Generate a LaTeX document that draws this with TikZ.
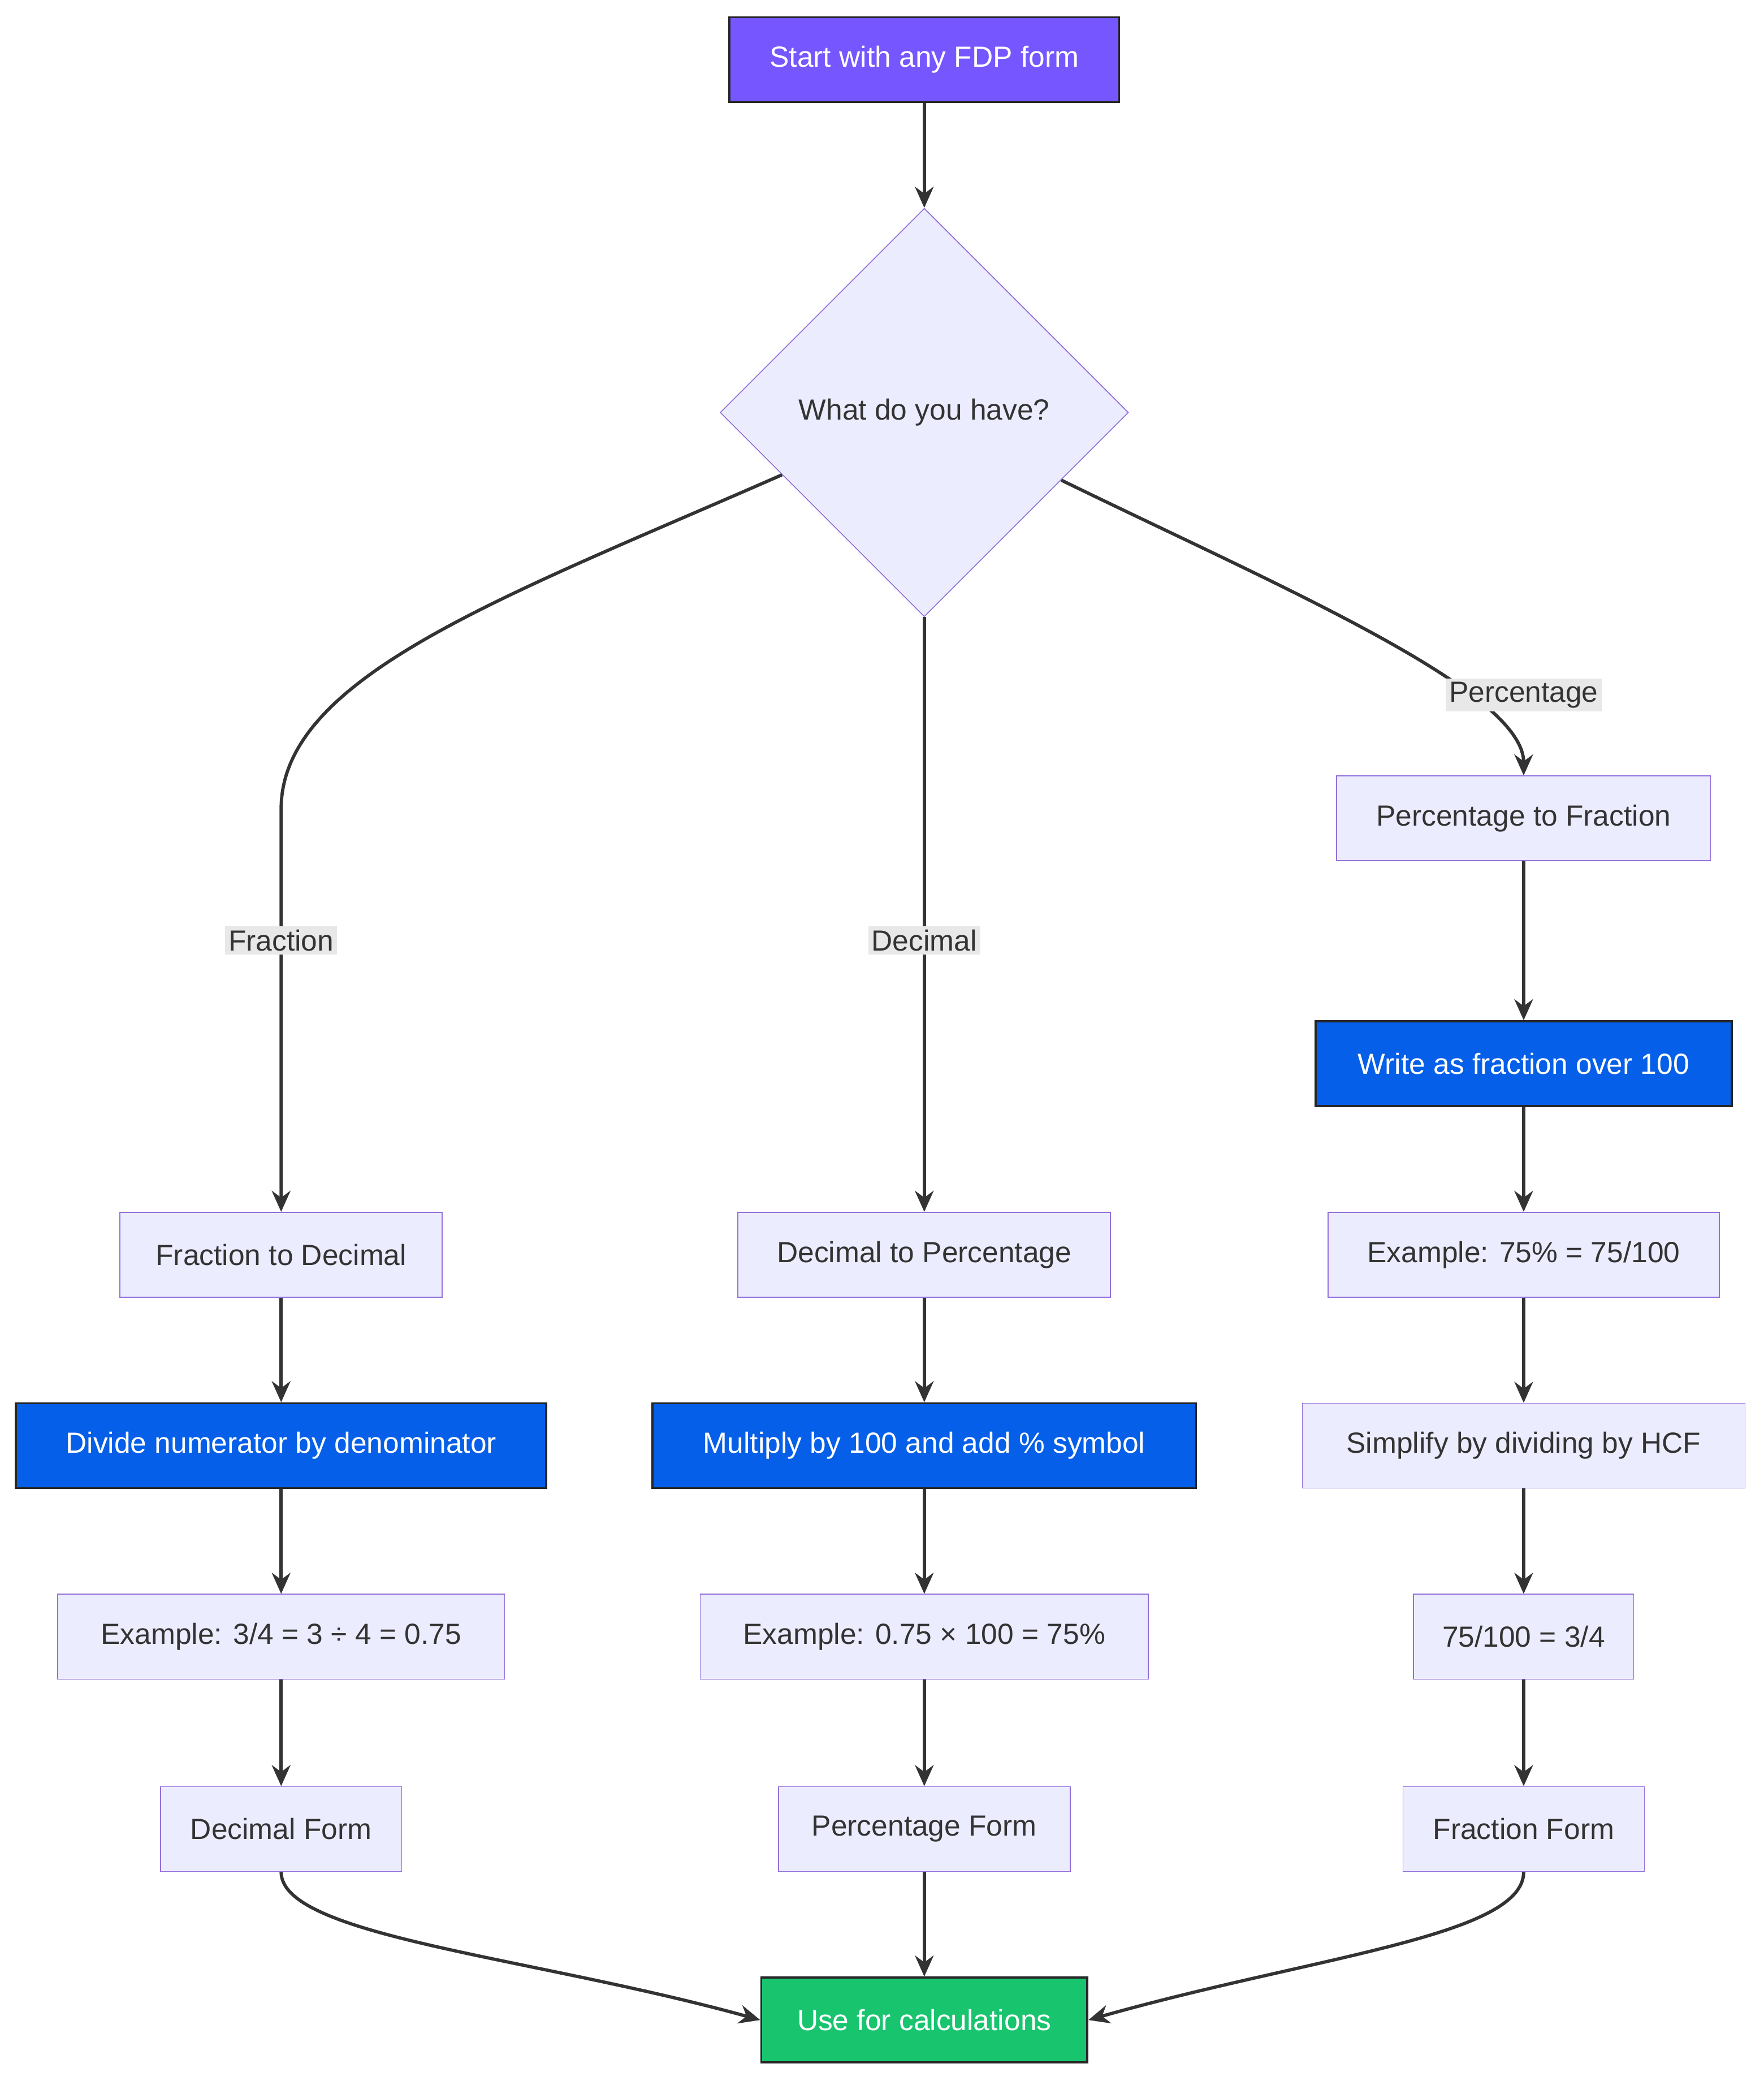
\documentclass[tikz,border=0pt]{standalone}
\usepackage{fontspec}
\setmainfont{Liberation Sans}
\usetikzlibrary{shapes.geometric}
\usetikzlibrary{arrows.meta}
\usetikzlibrary{positioning}

\definecolor{boxfill}{HTML}{ECECFF}
\definecolor{boxline}{HTML}{9370DB}
\definecolor{startfill}{HTML}{7657FF}
\definecolor{stepfill}{HTML}{055FE8}
\definecolor{endfill}{HTML}{19C46F}
\definecolor{txt}{HTML}{333333}
\definecolor{lblbg}{HTML}{E8E8E8}

\begin{document}
\begin{tikzpicture}[x=0.02cm,y=-0.02cm]
	%\draw[help lines] (0,0) grid (1330,1569);
	
	\tikzstyle{box} = [rectangle,draw=boxline,fill=boxfill,text=txt,minimum height=1.28cm,font=\fontsize{12.5}{14}\selectfont,inner sep=0pt]
	\tikzstyle{snode} = [box,draw=black!85,fill=stepfill,text=white,line width=0.9pt]
	\tikzstyle{dnode} = [diamond,draw=boxline,fill=boxfill,text=txt,minimum width=6.16cm,minimum height=6.16cm,inner sep=0pt,font=\fontsize{12.5}{14}\selectfont]
	\tikzstyle{elabel} = [fill=lblbg,text=txt,inner sep=1.5pt,font=\fontsize{12.5}{14}\selectfont]
	\tikzstyle{fedge} = [-{Stealth[length=9pt,width=8pt]},line width=1.4pt,draw=txt]
	
\useasboundingbox (0,0) rectangle (1330,1569);

\node[snode,fill=startfill,minimum width=5.88cm] (start) at (697,45) {Start with any FDP form};
\node[dnode] (have) at (697,311) {What do you have?};

\node[box,minimum width=4.86cm] (f2d) at (212,946) {Fraction to Decimal};
\node[snode,minimum width=8.0cm] (divide) at (212,1090) {Divide numerator by denominator};
\node[box,minimum width=6.74cm] (fex) at (212,1234) {Example: 3/4 = 3 ÷ 4 = 0.75};
\node[box,minimum width=3.64cm] (decform) at (212,1379) {Decimal Form};

\node[box,minimum width=5.62cm] (d2p) at (697,946) {Decimal to Percentage};
\node[snode,minimum width=8.2cm] (multiply) at (697,1090) {Multiply by 100 and add \% symbol};
\node[box,minimum width=6.76cm] (dex) at (697,1234) {Example: 0.75 × 100 = 75\%};
\node[box,minimum width=4.4cm] (pctform) at (697,1379) {Percentage Form};

\node[box,minimum width=5.64cm] (p2f) at (1149,617) {Percentage to Fraction};
\node[snode,minimum width=6.28cm] (write) at (1149,802) {Write as fraction over 100};
\node[box,minimum width=5.9cm] (pex) at (1149,946) {Example: 75\% = 75/100};
\node[box,minimum width=6.68cm] (simplify) at (1149,1090) {Simplify by dividing by HCF};
\node[box,minimum width=3.32cm] (simp) at (1149,1234) {75/100 = 3/4};
\node[box,minimum width=3.64cm] (fracform) at (1149,1379) {Fraction Form};

\node[snode,fill=endfill,minimum width=4.92cm] (use) at (697,1523) {Use for calculations};

\coordinate (fbend) at (212,610);

\draw[fedge] (start) -- (have);
\draw[fedge] (have.west) ++(47,47) .. controls (380,450) and (212,510) .. (fbend) -- (f2d);
\draw[fedge] (have.south) -- (d2p);
\draw[fedge] (have.east) ++(-51,51) .. controls (960,440) and (1149,520) .. (p2f);

\node[elabel] at (212,709) {Fraction};
\node[elabel] at (697,709) {Decimal};
\node[elabel] at (1149,524) {Percentage};

\draw[fedge] (f2d) -- (divide);
\draw[fedge] (divide) -- (fex);
\draw[fedge] (fex) -- (decform);
\draw[fedge] (d2p) -- (multiply);
\draw[fedge] (multiply) -- (dex);
\draw[fedge] (dex) -- (pctform);
\draw[fedge] (p2f) -- (write);
\draw[fedge] (write) -- (pex);
\draw[fedge] (pex) -- (simplify);
\draw[fedge] (simplify) -- (simp);
\draw[fedge] (simp) -- (fracform);

\draw[fedge] (decform.south) .. controls (212,1460) and (400,1475) .. (use.west);
\draw[fedge] (pctform) -- (use);
\draw[fedge] (fracform.south) .. controls (1149,1460) and (990,1475) .. (use.east);
\end{tikzpicture}
\end{document}
